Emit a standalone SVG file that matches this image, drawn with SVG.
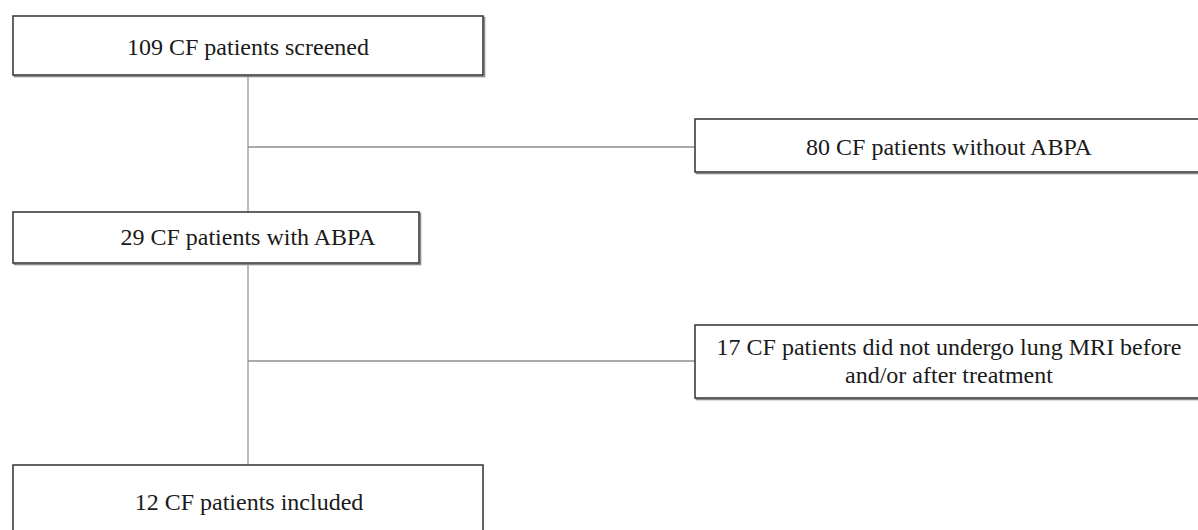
<svg xmlns="http://www.w3.org/2000/svg" width="1198" height="530" viewBox="0 0 1198 530">
  <defs>
    <style>
      .box { fill: #ffffff; stroke: #3c3c3c; stroke-width: 1.6; }
      .shadow { fill: none; stroke: #8a8a8a; stroke-width: 1.6; }
      .lbl { font-family: "Liberation Serif", "Times New Roman", serif; font-size: 24px; fill: #1a1a1a; text-anchor: middle; }
      .vline { stroke: #bdbdbd; stroke-width: 2; fill: none; }
      .hline { stroke: #8c8c8c; stroke-width: 1.5; fill: none; }
    </style>
  </defs>
  <rect width="1198" height="530" fill="#ffffff"/>
  <g id="connectors">
    <line class="vline" x1="248" y1="75" x2="248" y2="465"/>
    <line class="hline" x1="248" y1="147" x2="695" y2="147"/>
    <line class="hline" x1="248" y1="361" x2="695" y2="361"/>
  </g>
  <g id="node-screened">
    <rect class="shadow" x="14.5" y="17.5" width="470" height="59"/>
    <rect class="box" x="13" y="16" width="470" height="59"/>
    <text class="lbl" x="248" y="55">109 CF patients screened</text>
  </g>
  <g id="node-without-abpa">
    <rect class="shadow" x="696.5" y="120.5" width="520" height="53"/>
    <rect class="box" x="695" y="119" width="520" height="53"/>
    <text class="lbl" x="949" y="155">80 CF patients without ABPA</text>
  </g>
  <g id="node-with-abpa">
    <rect class="shadow" x="14.5" y="213.5" width="406" height="51"/>
    <rect class="box" x="13" y="212" width="406" height="51"/>
    <text class="lbl" x="248" y="245">29 CF patients with ABPA</text>
  </g>
  <g id="node-no-mri">
    <rect class="shadow" x="696.5" y="326.5" width="520" height="73"/>
    <rect class="box" x="695" y="325" width="520" height="73"/>
    <text class="lbl" x="949" y="355">17 CF patients did not undergo lung MRI before</text>
    <text class="lbl" x="949" y="383">and/or after treatment</text>
  </g>
  <g id="node-included">
    <rect class="box" x="13" y="465" width="470" height="80"/>
    <text class="lbl" x="249" y="510">12 CF patients included</text>
  </g>
</svg>
